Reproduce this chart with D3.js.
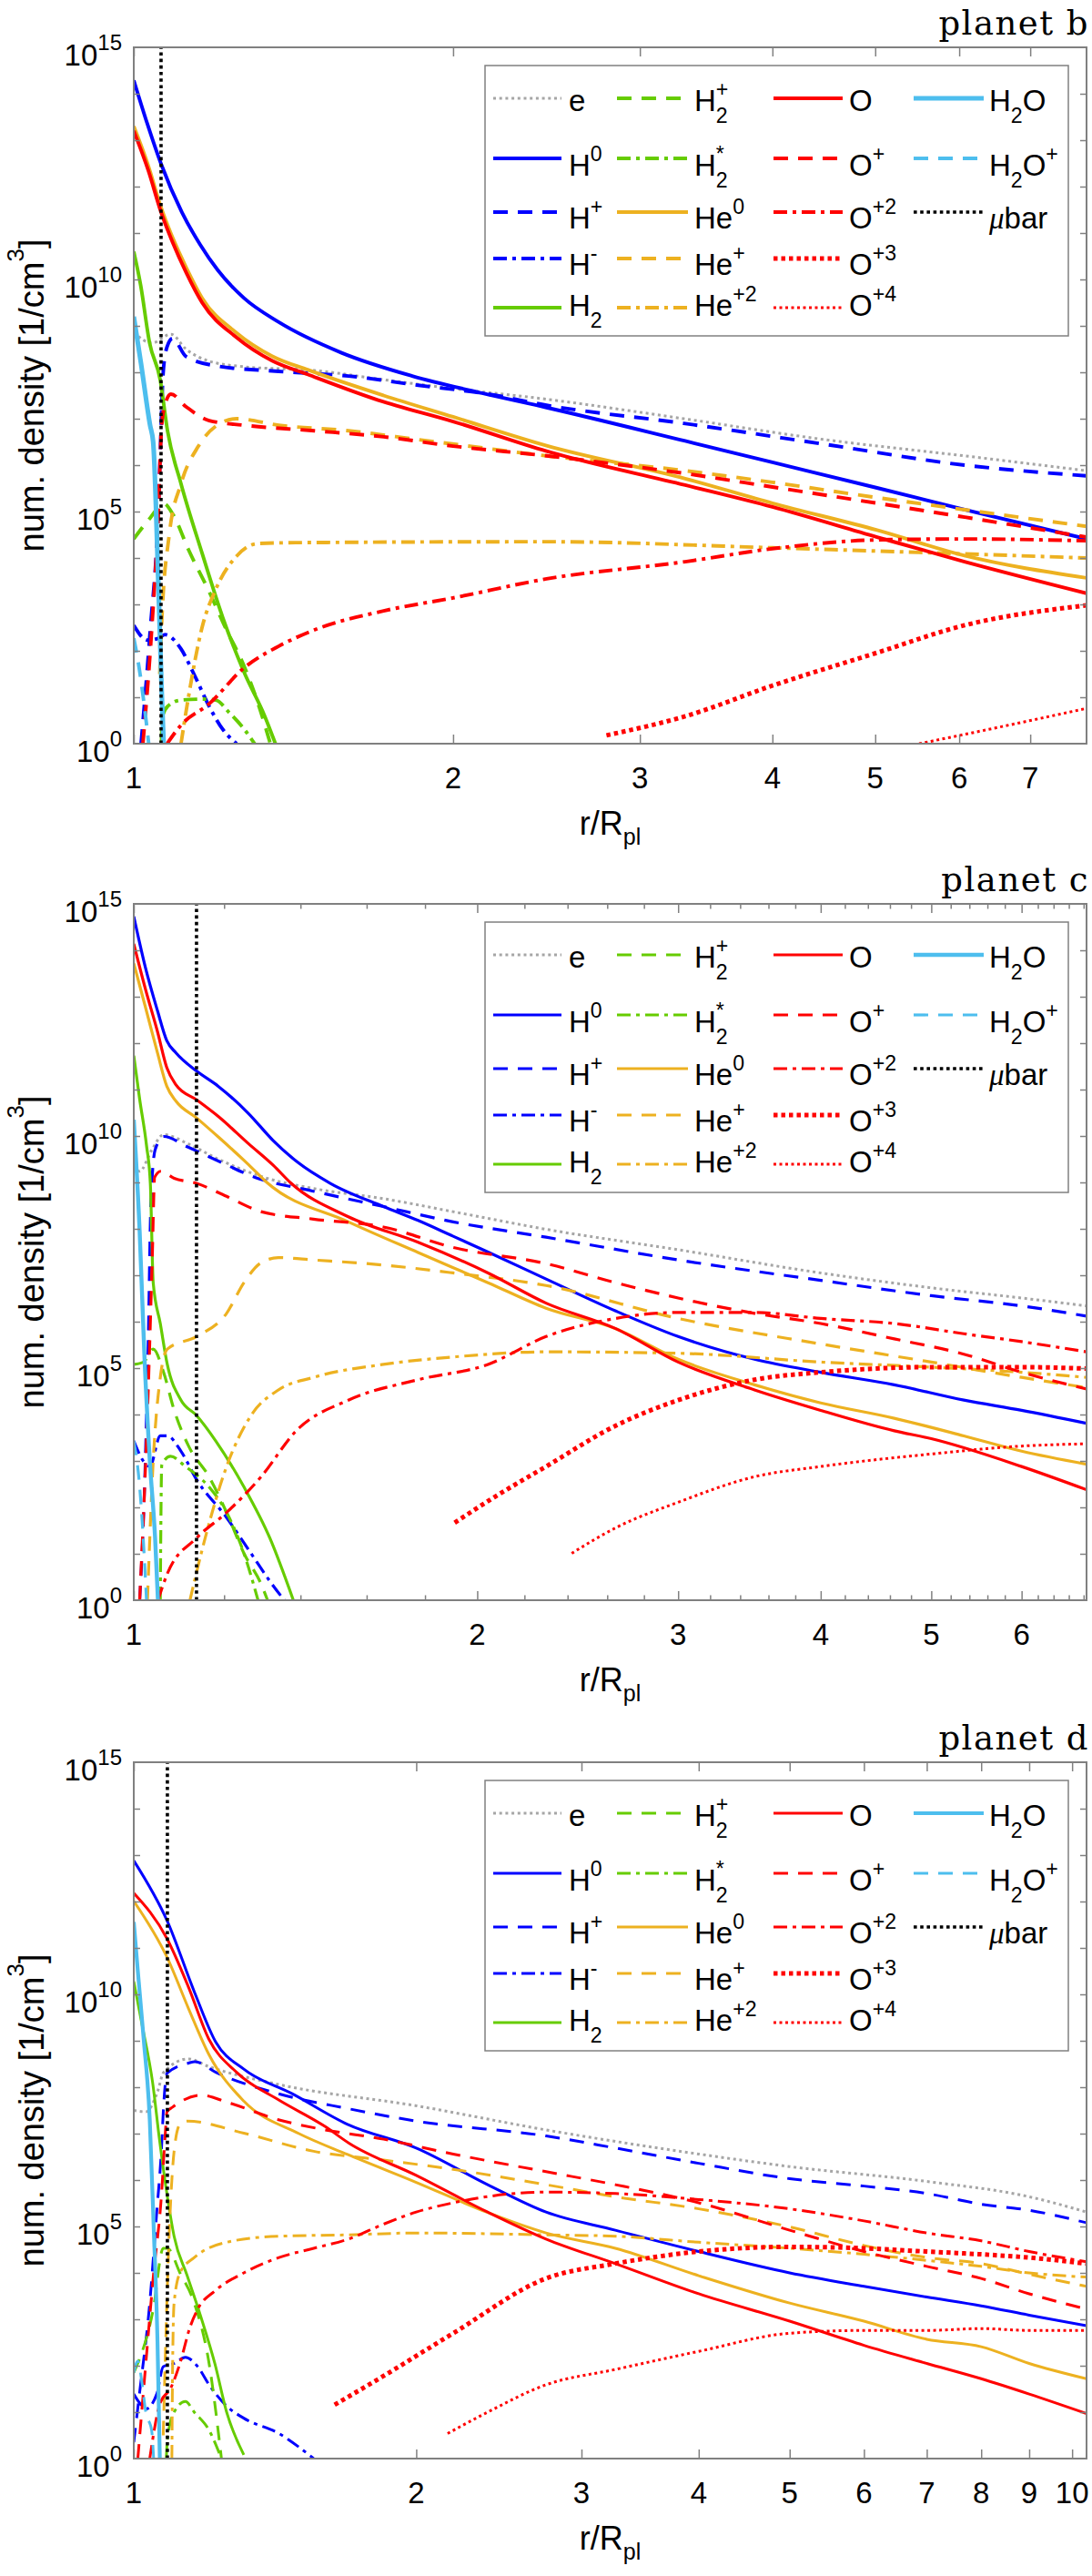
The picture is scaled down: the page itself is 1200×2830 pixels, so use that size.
<!DOCTYPE html>
<html><head><meta charset="utf-8">
<script src="https://cdn.jsdelivr.net/npm/d3@7"></script>
<style>body{margin:0;background:#fff} svg text{font-family:"Liberation Sans",Arial,sans-serif;fill:#000}</style>
</head><body>
<svg id="c" width="1200" height="2830"></svg>
<script>
// ---------- DATA: [r/Rpl, log10(number density)] ----------
// planet b
const b_e   = [[1,8.86],[1.04,8.63],[1.084,8.82],[1.12,8.5],[1.178,8.24],[1.27,8.12],[1.48,8.04],[1.72,7.84],[2.0,7.65],[2.45,7.42],[3.3,7.0],[4.48,6.55],[6.07,6.2],[7.91,5.88]];
const b_H0  = [[1,14.29],[1.03,13.35],[1.061,12.49],[1.11,11.45],[1.155,10.75],[1.2,10.2],[1.27,9.6],[1.37,9.08],[1.57,8.42],[1.83,7.92],[2.13,7.55],[2.45,7.24],[3.31,6.52],[4.0,6.06],[5.02,5.51],[6.07,5.04],[7.91,4.41]];
const b_Hp  = [[1.016,0],[1.036,2.4],[1.055,5.1],[1.06,6.5],[1.066,8.0],[1.075,8.55],[1.088,8.73],[1.12,8.34],[1.195,8.14],[1.37,8.02],[1.594,7.92],[1.855,7.72],[2.16,7.53],[2.45,7.29],[3.3,6.9],[4.48,6.45],[6.07,6.0],[7.91,5.77]];
const b_Hm  = [[1,2.55],[1.03,2.23],[1.055,2.27],[1.07,2.35],[1.108,2.04],[1.14,1.49],[1.178,0.8],[1.213,0.31],[1.25,0]];
const b_H2  = [[1,10.6],[1.015,9.88],[1.035,8.63],[1.059,7.84],[1.076,6.74],[1.108,5.6],[1.16,4.1],[1.213,2.72],[1.27,1.55],[1.329,0.59],[1.36,0]];
const b_H2p = [[1,4.41],[1.036,4.86],[1.067,5.17],[1.09,4.92],[1.126,4.18],[1.178,3.27],[1.22,2.5],[1.27,1.68],[1.31,0.86],[1.345,0]];
const b_H2s = [[1.062,0],[1.064,0.59],[1.076,0.8],[1.108,0.94],[1.16,0.96],[1.195,0.94],[1.23,0.67],[1.27,0.32],[1.3,0]];
const b_He0 = [[1,13.3],[1.032,12.45],[1.061,11.55],[1.088,10.9],[1.121,10.25],[1.16,9.6],[1.25,8.85],[1.35,8.35],[1.46,8.05],[1.72,7.5],[2.0,7.04],[2.45,6.42],[3.31,5.71],[4.0,5.18],[5.02,4.6],[6.07,4.05],[7.91,3.57]];
const b_Hep = [[1.058,1.5],[1.063,2.7],[1.08,4.5],[1.108,5.6],[1.15,6.4],[1.195,6.84],[1.25,7.0],[1.37,6.86],[1.594,6.74],[1.855,6.55],[2.45,6.2],[3.31,5.88],[4.0,5.63],[5.02,5.3],[6.07,5.04],[7.91,4.68]];
const b_Hepp= [[1.108,0],[1.126,1.0],[1.16,2.51],[1.195,3.33],[1.25,4.04],[1.308,4.31],[1.42,4.33],[2.45,4.35],[4.0,4.22],[5.5,4.12],[7.91,4.0]];
const b_O   = [[1,13.2],[1.032,12.35],[1.061,11.45],[1.088,10.8],[1.121,10.14],[1.16,9.5],[1.25,8.75],[1.35,8.25],[1.46,7.95],[1.7,7.4],[2.0,6.94],[2.45,6.3],[3.31,5.57],[4.0,5.1],[5.02,4.45],[6.07,3.92],[7.91,3.24]];
const b_Op  = [[1.02,0],[1.04,2.5],[1.055,5.0],[1.062,6.8],[1.07,7.3],[1.084,7.53],[1.12,7.26],[1.178,6.96],[1.27,6.86],[1.48,6.74],[1.72,6.61],[2.0,6.41],[2.45,6.2],[3.31,5.82],[4.0,5.53],[5.02,5.18],[6.07,4.88],[7.91,4.45]];
const b_O2  = [[1.075,0],[1.108,0.4],[1.178,0.86],[1.27,1.63],[1.37,2.1],[1.48,2.45],[1.72,2.86],[2.0,3.14],[2.45,3.55],[3.31,3.92],[4.0,4.2],[5.02,4.39],[6.07,4.41],[7.91,4.37]];
const b_O3  = [[2.79,0.18],[3.31,0.59],[4.0,1.25],[5.02,1.96],[6.07,2.55],[7.91,2.98]];
const b_O4  = [[5.5,0],[6.07,0.2],[7.91,0.76]];
const b_H2O = [[1,9.2],[1.016,8.18],[1.036,6.86],[1.043,6.5],[1.055,3.4],[1.063,1.0],[1.067,0]];
const b_H2Op= [[1,2.27],[1.011,1.68],[1.025,0.67],[1.033,0]];
// planet c
const c_e   = [[1,9.36],[1.012,9.24],[1.037,9.7],[1.062,10.03],[1.116,9.83],[1.186,9.5],[1.30,9.11],[1.437,8.87],[1.655,8.65],[1.905,8.37],[2.298,7.99],[3.0,7.55],[4.0,7.05],[5.0,6.73],[6.0,6.51],[6.84,6.34]];
const c_H0  = [[1,14.73],[1.024,13.62],[1.049,12.7],[1.069,12.05],[1.089,11.79],[1.135,11.4],[1.186,11.07],[1.26,10.49],[1.325,9.9],[1.391,9.44],[1.487,8.98],[1.655,8.48],[1.775,8.18],[1.905,7.84],[2.044,7.5],[2.298,6.92],[2.645,6.23],[3.0,5.68],[3.5,5.19],[4.0,4.91],[4.64,4.64],[5.34,4.31],[6.0,4.09],[6.84,3.81]];
const c_Hp  = [[1.012,0],[1.022,2.44],[1.03,5.74],[1.035,8.5],[1.044,9.7],[1.062,9.99],[1.116,9.76],[1.186,9.46],[1.277,9.11],[1.437,8.81],[1.655,8.48],[1.905,8.15],[2.298,7.82],[3.0,7.33],[4.0,6.89],[5.0,6.56],[6.0,6.34],[6.84,6.12]];
const c_Hm  = [[1,3.43],[1.02,2.99],[1.033,2.88],[1.055,3.54],[1.07,3.54],[1.10,3.21],[1.135,2.6],[1.206,1.78],[1.267,1.01],[1.316,0.41],[1.355,0]];
const c_H2  = [[1,11.73],[1.012,10.79],[1.026,9.8],[1.034,8.98],[1.04,6.84],[1.055,5.96],[1.07,5.08],[1.10,4.31],[1.135,3.98],[1.18,3.43],[1.249,2.44],[1.316,1.34],[1.38,0]];
const c_H2p = [[1,5.08],[1.02,5.13],[1.04,5.41],[1.062,4.91],[1.085,4.09],[1.117,3.32],[1.164,2.66],[1.206,1.89],[1.249,1.01],[1.293,0.35],[1.31,0]];
const c_H2s = [[1.055,0],[1.058,2.9],[1.062,2.99],[1.077,3.1],[1.11,2.88],[1.164,2.44],[1.206,1.89],[1.249,1.01],[1.285,0]];
const c_He0 = [[1,13.72],[1.024,12.77],[1.049,11.79],[1.069,11.07],[1.089,10.75],[1.135,10.39],[1.186,9.98],[1.261,9.38],[1.308,9.0],[1.542,8.15],[1.775,7.49],[2.044,6.84],[2.298,6.29],[2.645,5.85],[3.0,5.19],[3.5,4.64],[4.0,4.25],[4.64,3.92],[5.34,3.54],[6.0,3.21],[6.84,2.93]];
const c_Hep = [[1.028,0],[1.04,3.0],[1.055,4.8],[1.07,5.41],[1.135,5.68],[1.206,6.18],[1.249,6.84],[1.293,7.27],[1.339,7.38],[1.437,7.33],[1.655,7.22],[1.905,7.05],[2.298,6.78],[3.0,6.07],[4.0,5.52],[5.0,5.13],[6.0,4.8],[6.84,4.58]];
const c_Hepp= [[1.12,0],[1.155,1.34],[1.206,2.88],[1.267,3.98],[1.339,4.53],[1.437,4.8],[1.655,5.08],[1.905,5.24],[2.298,5.35],[3.0,5.32],[4.0,5.13],[5.0,5.02],[6.0,4.91],[6.84,4.8]];
const c_O   = [[1,14.14],[1.024,13.16],[1.049,12.25],[1.069,11.47],[1.089,11.1],[1.135,10.78],[1.186,10.42],[1.261,9.83],[1.325,9.37],[1.374,8.98],[1.542,8.26],[1.775,7.71],[2.044,7.05],[2.298,6.4],[2.645,5.85],[3.0,5.13],[3.5,4.53],[4.0,4.09],[4.64,3.65],[5.0,3.48],[6.0,2.88],[6.84,2.38]];
const c_Op  = [[1.012,0],[1.03,4.64],[1.038,7.38],[1.043,9.11],[1.056,9.24],[1.085,9.09],[1.135,8.98],[1.206,8.7],[1.293,8.37],[1.437,8.21],[1.655,8.04],[1.905,7.6],[2.298,7.25],[2.645,6.84],[3.0,6.51],[3.5,6.18],[4.0,5.96],[4.64,5.63],[5.34,5.3],[6.0,4.91],[6.84,4.55]];
const c_O2  = [[1.05,0],[1.07,0.57],[1.135,1.34],[1.206,1.89],[1.293,2.66],[1.388,3.65],[1.542,4.31],[1.775,4.75],[2.044,5.08],[2.298,5.68],[2.645,6.07],[3.0,6.2],[3.5,6.2],[4.0,6.07],[4.64,5.96],[5.34,5.74],[6.0,5.57],[6.84,5.35]];
const c_O3  = [[1.911,1.67],[2.07,2.22],[2.298,2.88],[2.645,3.76],[3.0,4.31],[3.5,4.75],[4.0,4.91],[5.0,5.02],[6.0,5.02],[6.84,4.99]];
const c_O4  = [[2.42,1.01],[2.645,1.56],[3.0,2.11],[3.5,2.66],[4.0,2.88],[5.0,3.15],[6.0,3.32],[6.84,3.37]];
const c_H2O = [[1,10.35],[1.012,7.93],[1.022,5.19],[1.033,2.99],[1.044,1.34],[1.05,0]];
const c_H2Op= [[1,3.43],[1.012,2.44],[1.018,1.56],[1.026,0]];
// planet d
const d_e   = [[1,7.5],[1.03,7.47],[1.06,7.9],[1.076,8.32],[1.144,8.61],[1.2,8.45],[1.426,8.06],[2.0,7.6],[2.75,7.08],[4.0,6.56],[5.0,6.29],[7.0,5.97],[9.0,5.64],[10.36,5.31]];
const d_H0  = [[1,12.88],[1.085,11.59],[1.162,10.02],[1.223,8.97],[1.31,8.39],[1.475,7.86],[1.69,7.2],[2.0,6.69],[2.383,5.9],[2.75,5.31],[3.26,4.92],[4.0,4.46],[5.0,4.0],[6.0,3.71],[7.0,3.48],[8.0,3.29],[9.0,3.09],[10.36,2.86]];
const d_Hp  = [[1,0.35],[1.014,1.39],[1.04,3.35],[1.058,5.31],[1.07,6.62],[1.076,7.6],[1.085,8.3],[1.144,8.52],[1.162,8.55],[1.223,8.32],[1.426,7.86],[1.69,7.54],[2.0,7.27],[2.75,6.95],[3.26,6.69],[4.0,6.36],[5.0,6.03],[6.0,5.87],[7.0,5.71],[8.0,5.48],[9.0,5.35],[10.36,5.08]];
const d_Hm  = [[1,1.39],[1.014,1.2],[1.03,1.07],[1.058,1.39],[1.075,1.98],[1.104,2.05],[1.135,2.18],[1.17,1.98],[1.203,1.59],[1.256,1.13],[1.31,0.87],[1.428,0.54],[1.555,0]];
const d_H2  = [[1,10.28],[1.02,9.37],[1.048,8.06],[1.065,6.88],[1.086,5.64],[1.104,4.79],[1.14,3.94],[1.18,3.03],[1.22,2.05],[1.256,1.0],[1.31,0.08]];
const d_H2p = [[1,1.85],[1.049,3.22],[1.075,4.53],[1.086,4.53],[1.12,4.0],[1.16,3.35],[1.203,2.05],[1.24,0]];
const d_H2s = [[1.083,0],[1.086,0.41],[1.104,1.0],[1.135,1.23],[1.16,1.0],[1.203,0.61],[1.24,0]];
const d_He0 = [[1,12.01],[1.085,10.8],[1.144,9.69],[1.202,8.71],[1.31,7.7],[1.5,7.0],[1.69,6.55],[2.0,5.95],[2.383,5.3],[2.75,4.86],[3.26,4.53],[4.0,3.94],[5.0,3.35],[6.0,2.96],[7.0,2.57],[8.0,2.41],[9.0,2.05],[10.36,1.72]];
const d_Hep = [[1.075,0.5],[1.08,2.05],[1.09,4.66],[1.104,6.62],[1.12,7.2],[1.14,7.27],[1.31,7.01],[1.555,6.62],[1.846,6.43],[2.19,6.23],[2.75,5.9],[3.26,5.64],[4.0,5.38],[5.0,4.99],[6.0,4.59],[7.0,4.33],[8.0,4.2],[9.0,3.97],[10.36,3.71]];
const d_Hepp= [[1.098,0],[1.1,2.0],[1.104,3.35],[1.12,4.0],[1.16,4.33],[1.256,4.66],[1.428,4.79],[1.694,4.82],[2.0,4.86],[2.75,4.82],[3.26,4.79],[4.0,4.66],[5.0,4.53],[6.0,4.4],[7.0,4.27],[8.0,4.14],[9.0,4.0],[10.36,3.91]];
const d_O   = [[1,12.18],[1.085,11.2],[1.144,10.15],[1.202,9.04],[1.287,8.32],[1.426,7.73],[1.6,7.15],[1.694,6.8],[2.0,6.1],[2.383,5.31],[2.75,4.73],[3.26,4.2],[4.0,3.55],[5.0,2.96],[6.0,2.44],[7.0,2.05],[8.0,1.72],[9.0,1.39],[10.36,0.97]];
const d_Op  = [[1.01,0],[1.03,2.05],[1.05,4.0],[1.07,5.64],[1.08,6.95],[1.085,7.47],[1.1,7.57],[1.18,7.83],[1.26,7.67],[1.426,7.3],[1.58,7.1],[1.846,6.88],[2.19,6.56],[2.75,6.18],[3.26,5.9],[4.0,5.51],[5.0,4.92],[6.0,4.46],[7.0,4.14],[8.0,3.88],[9.0,3.55],[10.36,3.22]];
const d_O2  = [[1.04,0],[1.067,1.2],[1.095,1.52],[1.12,2.05],[1.148,2.83],[1.17,3.22],[1.22,3.61],[1.31,4.0],[1.428,4.33],[1.555,4.53],[1.694,4.73],[1.846,5.05],[2.0,5.31],[2.19,5.51],[2.75,5.74],[3.26,5.71],[4.0,5.58],[5.0,5.38],[6.0,5.12],[7.0,4.86],[8.0,4.69],[9.0,4.46],[10.36,4.24]];
const d_O3  = [[1.637,1.16],[1.846,1.78],[2.19,2.7],[2.75,3.88],[3.26,4.2],[4.0,4.46],[5.0,4.56],[6.0,4.53],[7.0,4.46],[8.0,4.4],[9.0,4.33],[10.36,4.2]];
const d_O4  = [[2.16,0.54],[2.383,1.0],[2.75,1.59],[3.26,1.92],[4.0,2.31],[5.0,2.7],[6.0,2.76],[7.0,2.76],[8.0,2.8],[9.0,2.76],[10.36,2.76]];
const d_H2O = [[1,11.56],[1.01,10.5],[1.025,9.0],[1.04,7.3],[1.05,5.0],[1.06,2.5],[1.066,0]];
const d_H2Op= [[1,1.85],[1.01,2.1],[1.02,1.65],[1.03,1.0],[1.045,0.6],[1.05,0]];

const muBar   = [1.061, 1.135, 1.086];
const xMax    = [7.91, 6.84, 10.36];
const titles  = ["planet b", "planet c", "planet d"];
const xTicksB = [1,2,3,4,5,6,7];
const xTicksC = [1,2,3,4,5,6];
const xTicksD = [1,2,3,4,5,6,7,8,9,10];
const yTickExp = [0,5,10,15];

// ---------- STYLE ----------
const BLUE="#0000ff", RED="#ff0000", GREEN="#66cc00", ORANGE="#edb120", LBLUE="#4dbeee", GREY="#a6a6a6", AXC="#808080";
const DASH="16,11", DASHDOT="15,6,4,6";
const SPEC = [
  {k:"e",   c:GREY,  d:"3,3.7",w:3, lab:[{t:"e"}], col:0,row:0},
  {k:"H0",  c:BLUE,  d:null,   lab:[{t:"H"},{sup:"0"}], col:0,row:1},
  {k:"Hp",  c:BLUE,  d:DASH,   lab:[{t:"H"},{sup:"+"}], col:0,row:2},
  {k:"Hm",  c:BLUE,  d:DASHDOT,lab:[{t:"H"},{sup:"-"}], col:0,row:3},
  {k:"H2",  c:GREEN, d:null,   lab:[{t:"H"},{sub:"2"}], col:0,row:4},
  {k:"H2p", c:GREEN, d:DASH,   lab:[{t:"H"},{sub:"2",sup:"+"}], col:1,row:0},
  {k:"H2s", c:GREEN, d:DASHDOT,lab:[{t:"H"},{sub:"2",sup:"*"}], col:1,row:1},
  {k:"He0", c:ORANGE,d:null,   lab:[{t:"He"},{sup:"0"}], col:1,row:2},
  {k:"Hep", c:ORANGE,d:DASH,   lab:[{t:"He"},{sup:"+"}], col:1,row:3},
  {k:"Hepp",c:ORANGE,d:DASHDOT,lab:[{t:"He"},{sup:"+2"}], col:1,row:4},
  {k:"O",   c:RED,   d:null,   lab:[{t:"O"}], col:2,row:0},
  {k:"Op",  c:RED,   d:DASH,   lab:[{t:"O"},{sup:"+"}], col:2,row:1},
  {k:"O2",  c:RED,   d:DASHDOT,lab:[{t:"O"},{sup:"+2"}], col:2,row:2},
  {k:"O3",  c:RED,   d:"4.5,4",w:5, lab:[{t:"O"},{sup:"+3"}], col:2,row:3},
  {k:"O4",  c:RED,   d:"3,3.5",w:3, lab:[{t:"O"},{sup:"+4"}], col:2,row:4},
  {k:"H2O", c:LBLUE, d:null,   wAdd:1.2, lab:[{t:"H"},{sub:"2"},{t:"O"}], col:3,row:0},
  {k:"H2Op",c:LBLUE, d:DASH,   lab:[{t:"H"},{sub:"2"},{t:"O"},{sup:"+"}], col:3,row:1},
  {k:"mu",  c:"#000",d:"3.6,3.6",w:3.6, lab:[{t:"\u03bc",it:true},{t:"bar"}], col:3,row:2}
];

const panels = [
  {top:52,  xt:xTicksB, minor:false, lw:3.9, s:{e:b_e,H0:b_H0,Hp:b_Hp,Hm:b_Hm,H2:b_H2,H2p:b_H2p,H2s:b_H2s,He0:b_He0,Hep:b_Hep,Hepp:b_Hepp,O:b_O,Op:b_Op,O2:b_O2,O3:b_O3,O4:b_O4,H2O:b_H2O,H2Op:b_H2Op}},
  {top:993, xt:xTicksC, minor:true,  lw:3.2, s:{e:c_e,H0:c_H0,Hp:c_Hp,Hm:c_Hm,H2:c_H2,H2p:c_H2p,H2s:c_H2s,He0:c_He0,Hep:c_Hep,Hepp:c_Hepp,O:c_O,Op:c_Op,O2:c_O2,O3:c_O3,O4:c_O4,H2O:c_H2O,H2Op:c_H2Op}},
  {top:1936,xt:xTicksD, minor:false, lw:3.0, s:{e:d_e,H0:d_H0,Hp:d_Hp,Hm:d_Hm,H2:d_H2,H2p:d_H2p,H2s:d_H2s,He0:d_He0,Hep:d_Hep,Hepp:d_Hepp,O:d_O,Op:d_Op,O2:d_O2,O3:d_O3,O4:d_O4,H2O:d_H2O,H2Op:d_H2Op}}
];

const AX_L=147, AX_R=1194, DEC=51;
const LEG = {x0:533, x1:1174, y0:20, y1:317, lines:[[542,617],[678,756],[850,926],[1004,1081]], tx:[625,763,933,1087],
             rowLine:[56,122,181,232,286], rowBase:[70,141,199,250,295]};
const svg = d3.select("#c");

function addLabel(g, x, y, parts, fs){
  let cx = x;
  parts.forEach(p=>{
    if (p.t !== undefined){
      const t = g.append("text").attr("x",cx).attr("y",y).attr("font-size",fs).text(p.t);
      if (p.it) t.attr("font-style","italic").style("font-family","'Liberation Serif',serif");
      cx += t.node().getComputedTextLength();
    } else {
      let w = 0;
      if (p.sup){ const t=g.append("text").attr("x",cx).attr("y",y-16).attr("font-size",fs*0.7).text(p.sup); w=Math.max(w,t.node().getComputedTextLength()); }
      if (p.sub){ const t=g.append("text").attr("x",cx).attr("y",y+13).attr("font-size",fs*0.7).text(p.sub); w=Math.max(w,t.node().getComputedTextLength()); }
      cx += w;
    }
  });
}

panels.forEach((P,i)=>{
  const T=P.top, B=T+15*DEC;
  const x=d3.scaleLog().domain([1,xMax[i]]).range([AX_L,AX_R]);
  const y=d3.scaleLog().domain([1,1e15]).range([B,T]);
  const g=svg.append("g");
  g.append("clipPath").attr("id","clip"+i).append("rect").attr("x",AX_L).attr("y",T).attr("width",AX_R-AX_L).attr("height",B-T);
  const plot=g.append("g").attr("clip-path",`url(#clip${i})`);
  const line=d3.line().x(d=>x(d[0])).y(d=>y(Math.pow(10,d[1]))).curve(d3.curveMonotoneX);
  const widthOf = s => s.w ? s.w : P.lw + (s.wAdd||0);
  SPEC.forEach(s=>{
    let path;
    if (s.k==="mu"){
      path = plot.append("path").attr("d", d3.line().x(d=>x(d[0])).y(d=>y(d[1]))([[muBar[i],1],[muBar[i],1e15]]));
    } else {
      path = plot.append("path").attr("d", line(P.s[s.k]));
    }
    path.attr("fill","none").attr("stroke",s.c).attr("stroke-width",widthOf(s)).attr("stroke-linejoin","round");
    if (s.d) path.attr("stroke-dasharray",s.d);
  });

  // axes ticks
  const tickStyle = sel => { sel.select(".domain").remove(); sel.selectAll("line").attr("stroke",AXC).attr("stroke-width",1.5); };
  const minorT = P.minor ? d3.range(1.2, xMax[i], 0.2).filter(v=>Math.abs(v-Math.round(v))>0.05) : [];
  [[d3.axisBottom, B],[d3.axisTop, T]].forEach(([ax,pos])=>{
    g.append("g").attr("transform",`translate(0,${pos})`).call(ax(x).tickValues(P.xt).tickSize(-10).tickFormat("")).call(tickStyle);
    if (minorT.length) g.append("g").attr("transform",`translate(0,${pos})`).call(ax(x).tickValues(minorT).tickSize(-5.5).tickFormat("")).call(tickStyle);
  });
  const decs = d3.range(1,15).map(e=>Math.pow(10,e));
  g.append("g").attr("transform",`translate(${AX_L},0)`).call(d3.axisLeft(y).tickValues(decs).tickSize(-7).tickFormat("")).call(tickStyle);
  g.append("g").attr("transform",`translate(${AX_R},0)`).call(d3.axisRight(y).tickValues(decs).tickSize(-7).tickFormat("")).call(tickStyle);
  g.append("rect").attr("x",AX_L).attr("y",T).attr("width",AX_R-AX_L).attr("height",B-T).attr("fill","none").attr("stroke",AXC).attr("stroke-width",2);

  // x tick labels
  P.xt.forEach(v=>{
    g.append("text").attr("x",x(v)).attr("y",B+49).attr("text-anchor","middle").attr("font-size",33).text(v);
  });
  // y tick labels
  yTickExp.forEach(e=>{
    const t=g.append("text").attr("x",134).attr("y",y(Math.pow(10,e))+20).attr("text-anchor","end").attr("font-size",33);
    t.append("tspan").text("10");
    t.append("tspan").attr("dy",-17).attr("font-size",24).text(e);
  });
  // axis titles
  const xt=g.append("text").attr("x",(AX_L+AX_R)/2).attr("y",B+100).attr("text-anchor","middle").attr("font-size",36);
  xt.append("tspan").text("r/R");
  xt.append("tspan").attr("dy",11).attr("font-size",25).text("pl");
  const yt=g.append("text").attr("transform",`translate(48,${(T+B)/2}) rotate(-90)`).attr("text-anchor","middle").attr("font-size",38);
  yt.append("tspan").text("num. density [1/cm");
  yt.append("tspan").attr("dy",-22).attr("font-size",26).text("3");
  yt.append("tspan").attr("dy",22).text("]");
  // title
  g.append("text").attr("x",1197).attr("y",T-14).attr("text-anchor","end").attr("font-size",37)
    .style("font-family","'DejaVu Serif',serif").attr("letter-spacing",1.5).text(titles[i]);

  // legend
  const lg=g.append("g");
  lg.append("rect").attr("x",LEG.x0).attr("y",T+LEG.y0).attr("width",LEG.x1-LEG.x0).attr("height",LEG.y1-LEG.y0)
    .attr("fill","#fff").attr("stroke",AXC).attr("stroke-width",1.5);
  SPEC.forEach(s=>{
    const [a,b]=LEG.lines[s.col];
    const ly=T+LEG.rowLine[s.row];
    const l=lg.append("line").attr("x1",a).attr("x2",b).attr("y1",ly).attr("y2",ly).attr("stroke",s.c).attr("stroke-width",widthOf(s));
    if (s.d) l.attr("stroke-dasharray",s.d);
    addLabel(lg, LEG.tx[s.col], T+LEG.rowBase[s.row], s.lab, 33);
  });
});
</script>
</body></html>
